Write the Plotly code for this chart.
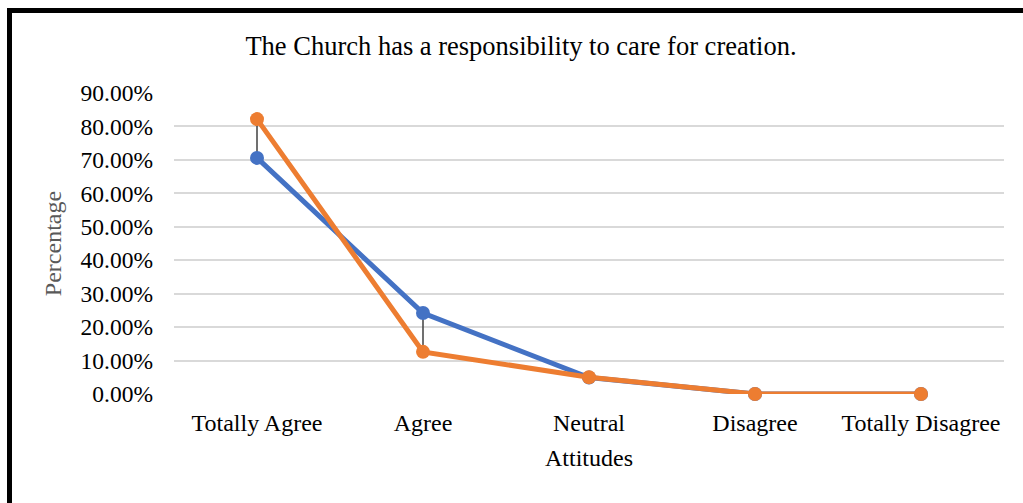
import plotly.graph_objects as go

# Survey responses per attitude, as fractions of respondents
attitudes = ["Totally Agree", "Agree", "Neutral", "Disagree", "Totally Disagree"]
series_blue = [0.706, 0.242, 0.049, 0.0, 0.0]
series_orange = [0.822, 0.126, 0.050, 0.0, 0.0]
y_ticks = [0.0, 0.1, 0.2, 0.3, 0.4, 0.5, 0.6, 0.7, 0.8, 0.9]

BLUE = "#4472C4"
ORANGE = "#ED7D31"
FONT = "Liberation Serif, Times New Roman, serif"

W, H = 1023, 503
L, R, T, B = 174, 19, 93, 109

fig = go.Figure()

# high-low connectors between the two series at each category
hl_x, hl_y = [], []
for a, lo, hi in zip(attitudes, series_blue, series_orange):
    hl_x += [a, a, None]
    hl_y += [lo, hi, None]
fig.add_trace(go.Scatter(x=hl_x, y=hl_y, mode="lines",
                         line=dict(color="#404040", width=1.5),
                         hoverinfo="skip", showlegend=False, cliponaxis=False))

fig.add_trace(go.Scatter(x=attitudes, y=series_blue, mode="lines+markers",
                         line=dict(color=BLUE, width=5),
                         marker=dict(color=BLUE, size=14),
                         showlegend=False, cliponaxis=False))
fig.add_trace(go.Scatter(x=attitudes, y=series_orange, mode="lines+markers",
                         line=dict(color=ORANGE, width=5),
                         marker=dict(color=ORANGE, size=14),
                         showlegend=False, cliponaxis=False))

# convert pixel positions to paper coordinates for the outer frame
pw, ph = W - L - R, H - T - B
def px(x):
    return (x - L) / pw
def py(y):
    return (H - B - y) / ph

fig.add_shape(type="rect", xref="paper", yref="paper",
              x0=px(9.5), x1=px(1035), y0=py(520), y1=py(10.5),
              line=dict(color="black", width=5), fillcolor="rgba(0,0,0,0)",
              layer="above")

fig.update_layout(
    width=W, height=H,
    margin=dict(l=L, r=R, t=T, b=B),
    paper_bgcolor="white", plot_bgcolor="white",
    font=dict(family=FONT, size=24, color="#000000"),
    title=dict(text="The Church has a responsibility to care for creation.",
               x=521 / W, xanchor="center", xref="container",
               y=1 - 46 / H, yanchor="middle", yref="container",
               font=dict(size=26.5, color="#000000", family=FONT)),
    xaxis=dict(type="category", categoryorder="array", categoryarray=attitudes,
               range=[-0.5, 4.5], showgrid=False, zeroline=False, showline=False,
               ticks="", ticklabelstandoff=12, tickfont=dict(size=24, family=FONT),
               title=dict(text="Attitudes", standoff=14,
                          font=dict(size=24, family=FONT, color="#000000"))),
    yaxis=dict(range=[0, 0.9], tickvals=y_ticks,
               ticktext=[f"{v*100:.2f}%" for v in y_ticks],
               showgrid=True, gridcolor="#d9d9d9", gridwidth=1.5,
               zeroline=False, showline=False, ticks="",
               ticklabelstandoff=20, tickfont=dict(size=23.5, family=FONT),
               title=dict(text="Percentage", standoff=12,
                          font=dict(size=24, family=FONT, color="#595959"))),
)

fig.write_html("out.html")
